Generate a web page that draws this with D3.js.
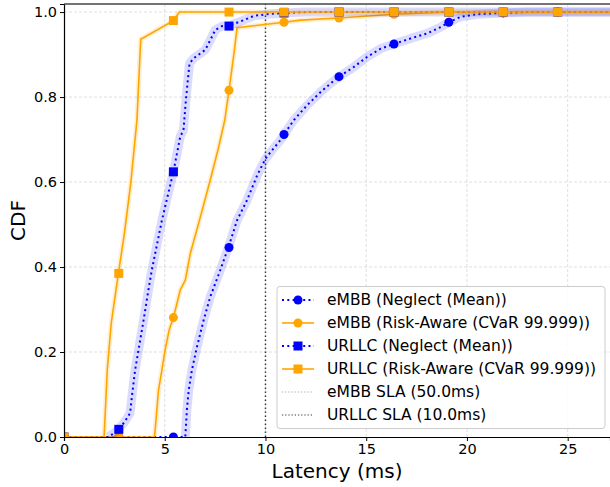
<!DOCTYPE html>
<html>
<head>
<meta charset="UTF-8">
<title>Latency CDF</title>
<script src="https://d3js.org/d3.v7.min.js"></script>
<style>
    body { margin: 0; background: #fff; }
    text { font-family: "DejaVu Sans", sans-serif; }
    .grid line { stroke: #b0b0b0; stroke-opacity: 0.5; stroke-dasharray: 3 2; stroke-width: 0.8; }
    .axis text { font-size: 14.5px; fill: #000; }
    .axis line, .axis path { stroke: #000; }
    .label { font-size: 20px; }
    .legend text { font-size: 15.5px; }
</style>
</head>
<body>
<svg id="chart" width="610" height="487"></svg>
<script>
// curve points: [latency ms, cdf]
const embbNeglect = [[0,0],[6.02,0],[6.1,0.064],[6.19,0.11],[6.35,0.158],[6.6,0.212],[6.93,0.275],[7.26,0.33],[7.76,0.393],[8.17,0.448],[8.59,0.51],[9.09,0.558],[9.59,0.616],[10.0,0.655],[10.33,0.675],[10.75,0.699],[10.92,0.712],[11.41,0.746],[12.07,0.781],[12.74,0.812],[13.23,0.832],[13.65,0.848],[14.39,0.871],[15.06,0.895],[15.72,0.914],[16.38,0.925],[17.21,0.938],[18.04,0.95],[18.71,0.965],[19.1,0.976],[19.7,0.989],[20.53,0.995],[21.8,0.998],[23.0,1.0],[27.2,1.0]];
const embbRisk = [[0,0],[4.49,0],[4.55,0.03],[4.61,0.064],[4.69,0.11],[4.86,0.158],[5.02,0.205],[5.22,0.252],[5.43,0.281],[5.77,0.346],[6.02,0.369],[6.27,0.432],[6.77,0.518],[7.26,0.605],[7.68,0.683],[7.98,0.746],[8.19,0.816],[8.46,0.911],[8.59,0.963],[10.92,0.976],[11.74,0.981],[13.65,0.986],[16.38,0.995],[19.1,1.0],[27.2,1.0]];
const urllcNeglect = [[0,0],[2.2,0],[2.45,0.008],[2.7,0.018],[3.0,0.035],[3.28,0.056],[3.37,0.095],[3.53,0.158],[3.7,0.205],[3.95,0.275],[4.19,0.346],[4.36,0.393],[4.86,0.51],[5.43,0.624],[5.77,0.707],[5.93,0.722],[6.05,0.793],[6.13,0.832],[6.23,0.879],[6.43,0.891],[7.01,0.911],[7.26,0.934],[7.51,0.958],[7.85,0.967],[8.19,0.968],[8.92,0.981],[9.42,0.991],[10.08,0.995],[10.92,0.998],[12.0,1.0],[27.2,1.0]];
const urllcRisk = [[0,0],[1.99,0],[2.04,0.05],[2.15,0.16],[2.35,0.27],[2.7,0.385],[3.0,0.48],[3.32,0.6],[3.62,0.746],[3.81,0.936],[5.43,0.98],[5.73,1.0],[27.2,1.0]];

// marker positions (every 2.72 ms)
const embbNeglectMarks = [[0,0],[2.72,0],[5.43,0],[8.19,0.446],[10.92,0.712],[13.65,0.848],[16.38,0.925],[19.1,0.976],[21.8,0.998],[24.5,1.0]];
const embbRiskMarks = [[0,0],[2.72,0],[5.43,0.281],[8.19,0.816],[10.92,0.976],[13.65,0.986],[16.38,0.995],[19.1,1.0],[21.8,1.0],[24.5,1.0]];
const urllcNeglectMarks = [[0,0],[2.72,0.018],[5.43,0.624],[8.19,0.967],[10.92,0.998],[13.65,1.0],[16.38,1.0],[19.1,1.0],[21.8,1.0],[24.5,1.0]];
const urllcRiskMarks = [[0,0],[2.72,0.385],[5.43,0.98],[8.19,1.0],[10.92,1.0],[13.65,1.0],[16.38,1.0],[19.1,1.0],[21.8,1.0],[24.5,1.0]];

const xTicks = [0, 5, 10, 15, 20, 25];
const yTicks = [0, 0.2, 0.4, 0.6, 0.8, 1.0];
const urllcSla = 10;

const series = [
    {name: "eMBB (Neglect (Mean))", data: embbNeglect, marks: embbNeglectMarks, color: "blue", dotted: true, shape: "circle"},
    {name: "eMBB (Risk-Aware (CVaR 99.999))", data: embbRisk, marks: embbRiskMarks, color: "orange", dotted: false, shape: "circle"},
    {name: "URLLC (Neglect (Mean))", data: urllcNeglect, marks: urllcNeglectMarks, color: "blue", dotted: true, shape: "square"},
    {name: "URLLC (Risk-Aware (CVaR 99.999))", data: urllcRisk, marks: urllcRiskMarks, color: "orange", dotted: false, shape: "square"}
];

const margin = {left: 64, top: 4, right: 0, bottom: 50};
const W = 610, H = 487;
const x = d3.scaleLinear().domain([0, 27.1]).range([margin.left, W]);
const y = d3.scaleLinear().domain([0, 1.019]).range([H - margin.bottom, margin.top]);

const svg = d3.select("#chart");
svg.append("defs").append("clipPath").attr("id", "clip")
    .append("rect").attr("x", margin.left).attr("y", margin.top)
    .attr("width", W - margin.left).attr("height", y(0) - margin.top);

// grid
svg.append("g").attr("class", "grid").selectAll("line").data(xTicks.slice(1)).join("line")
    .attr("x1", d => x(d)).attr("x2", d => x(d)).attr("y1", y(0)).attr("y2", margin.top);
svg.append("g").attr("class", "grid").selectAll("line").data(yTicks.slice(1)).join("line")
    .attr("x1", margin.left).attr("x2", W).attr("y1", d => y(d)).attr("y2", d => y(d));

const plot = svg.append("g").attr("clip-path", "url(#clip)");

// SLA line
plot.append("line")
    .attr("x1", x(urllcSla)).attr("x2", x(urllcSla)).attr("y1", y(0)).attr("y2", margin.top)
    .attr("stroke", "#000").attr("stroke-opacity", 0.75).attr("stroke-width", 1.5)
    .attr("stroke-dasharray", "1.5 2.5");

const line = d3.line().x(d => x(d[0])).y(d => y(d[1]));

series.forEach(s => {
    // uncertainty band drawn as a wide translucent stroke, skipping the flat zero run
    const band = s.data.filter((d, i) => !(d[1] === 0 && s.data[i + 1] && s.data[i + 1][1] === 0));
    plot.append("path").attr("d", line(band)).attr("fill", "none")
        .attr("stroke", s.color).attr("stroke-opacity", s.dotted ? 0.14 : 0.18)
        .attr("stroke-width", s.dotted ? 9 : 5).attr("stroke-linejoin", "round");
    plot.append("path").attr("d", line(s.data)).attr("fill", "none")
        .attr("stroke", s.color).attr("stroke-width", s.dotted ? 2 : 1.6)
        .attr("stroke-dasharray", s.dotted ? "2 3.3" : null);
    drawMarkers(plot, s.marks.map(d => [x(d[0]), y(d[1])]), s);
});

function drawMarkers(g, pts, s) {
    if (s.shape === "circle") {
        g.selectAll(null).data(pts).join("circle")
            .attr("cx", d => d[0]).attr("cy", d => d[1]).attr("r", 4.5).attr("fill", s.color);
    } else {
        g.selectAll(null).data(pts).join("rect")
            .attr("x", d => d[0] - 4.5).attr("y", d => d[1] - 4.5)
            .attr("width", 9).attr("height", 9).attr("fill", s.color);
    }
}

// axes
svg.append("g").attr("class", "axis")
    .attr("transform", `translate(0,${y(0)})`)
    .call(d3.axisBottom(x).tickValues(xTicks).tickSize(4).tickPadding(3).tickFormat(d3.format("d")))
    .call(g => g.select(".domain").attr("stroke-width", 1.2));
svg.append("g").attr("class", "axis")
    .attr("transform", `translate(${margin.left},0)`)
    .call(d3.axisLeft(y).tickValues(yTicks).tickSize(4).tickPadding(3).tickFormat(d3.format(".1f")))
    .call(g => g.select(".domain").attr("stroke-width", 1.2));
// top spine
svg.append("line").attr("x1", margin.left).attr("x2", W).attr("y1", margin.top).attr("y2", margin.top)
    .attr("stroke", "#444").attr("stroke-width", 1.5);

svg.append("text").attr("class", "label").attr("text-anchor", "middle")
    .attr("x", (margin.left + W) / 2).attr("y", 478).text("Latency (ms)");
svg.append("text").attr("class", "label").attr("text-anchor", "middle")
    .attr("transform", `translate(25,${(y(0) + margin.top) / 2}) rotate(-90)`).text("CDF");

// legend
const legendItems = series.map(s => ({name: s.name, color: s.color, dotted: s.dotted, shape: s.shape}))
    .concat([
        {name: "eMBB SLA (50.0ms)", color: "#aaa", dotted: true, shape: null, sla: true},
        {name: "URLLC SLA (10.0ms)", color: "#333", dotted: true, shape: null, sla: true}
    ]);
const lg = svg.append("g").attr("class", "legend");
lg.append("rect").attr("x", 277).attr("y", 286.5).attr("width", 328).attr("height", 142).attr("rx", 3)
    .attr("fill", "#fff").attr("fill-opacity", 0.85).attr("stroke", "#ccc");
legendItems.forEach((it, i) => {
    const cy = 300 + i * 23;
    lg.append("line").attr("x1", 282).attr("x2", 314).attr("y1", cy).attr("y2", cy)
        .attr("stroke", it.color).attr("stroke-width", it.sla ? 1.2 : (it.dotted ? 2 : 1.6))
        .attr("stroke-dasharray", it.dotted ? (it.sla ? "1.2 2" : "2 3.3") : null);
    if (it.shape) drawMarkers(lg, [[298, cy]], it);
    lg.append("text").attr("x", 327).attr("y", cy).attr("dy", "0.35em").text(it.name);
});
</script>
</body>
</html>
